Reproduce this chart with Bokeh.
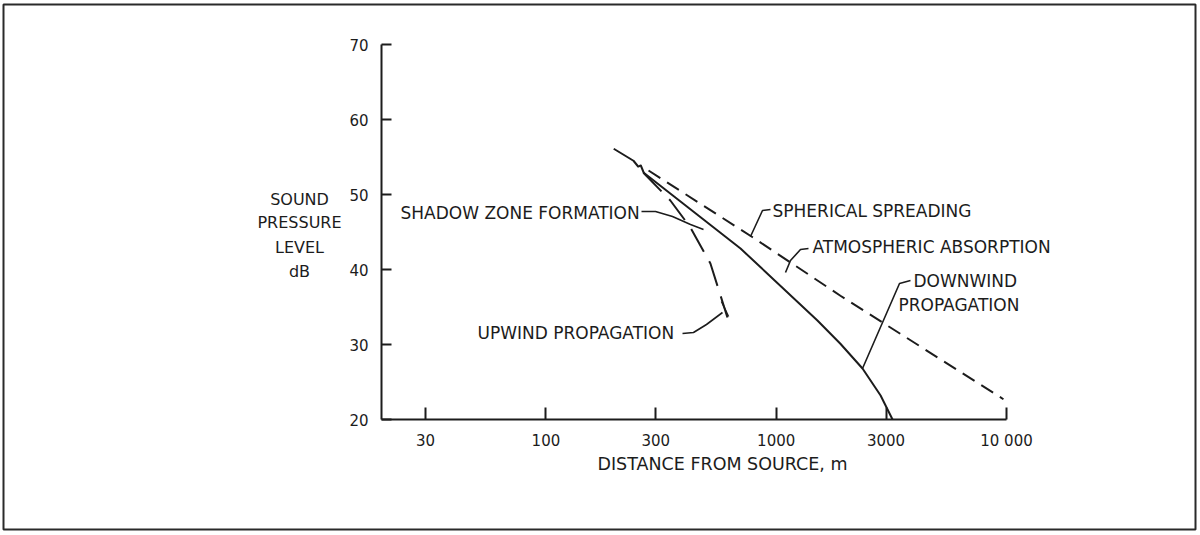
import math
from bokeh.plotting import figure
from bokeh.models import Label, BoxAnnotation, FixedTicker, Range1d
from bokeh.embed import file_html
from bokeh.resources import INLINE

# ---- data ----
x_ticks = [30, 100, 300, 1000, 3000, 10000]
x_tick_labels = ["30", "100", "300", "1000", "3000", "10 000"]
y_ticks = [20, 30, 40, 50, 60, 70]

spherical_distance = [279, 790, 1900, 9700]
spherical_spl = [53.2, 44.3, 36.5, 22.7]

downwind_distance = [197, 240, 252, 258, 266, 700, 1510, 1900, 2370, 2840, 3200]
downwind_spl = [56.1, 54.5, 53.7, 53.9, 52.9, 42.8, 33.2, 30.1, 26.8, 23.2, 20.0]

upwind_distance = [265, 347, 424, 518, 614]
upwind_spl = [52.9, 49.2, 45.6, 40.8, 33.6]

# ---- pixel geometry of the axes inside the 1200x535 canvas ----
W, H = 1200, 535
AX_L, AX_R, AX_T, AX_B = 381, 1006, 44, 419
PX_PER_DECADE = (AX_R - 425) / (4 - math.log10(30))
PX_PER_DB = (AX_B - AX_T) / 50.0


def X(px):
    return 10 ** (math.log10(30) + (px - 425) / PX_PER_DECADE)


def Y(py):
    return 20 + (AX_B - py) / PX_PER_DB


INK = "#1c1c1c"
FONT = "DejaVu Sans"

p = figure(width=W, height=H, x_axis_type="log",
           x_range=Range1d(X(0), X(W)), y_range=Range1d(Y(H), Y(0)),
           output_backend="svg", toolbar_location=None, min_border=0)
p.outline_line_color = None
p.background_fill_color = "white"
p.border_fill_color = "white"
p.xgrid.visible = False
p.ygrid.visible = False

p.xaxis.ticker = FixedTicker(ticks=x_ticks)
p.xaxis.major_label_overrides = {t: s for t, s in zip(x_ticks, x_tick_labels)}
p.xaxis.fixed_location = 20
p.xaxis.bounds = (X(AX_L), 10000)
p.yaxis.ticker = FixedTicker(ticks=y_ticks)
p.yaxis.fixed_location = X(AX_L)
p.yaxis.bounds = (20, 70)

for ax in (p.xaxis, p.yaxis):
    ax.axis_line_width = 2
    ax.axis_line_color = INK
    ax.major_tick_line_color = INK
    ax.major_tick_line_width = 2
    ax.major_tick_out = 0
    ax.minor_tick_in = 0
    ax.minor_tick_out = 0
    ax.major_label_text_font = FONT
    ax.major_label_text_font_size = "15px"
    ax.major_label_text_color = INK
p.xaxis.major_tick_in = 12
p.yaxis.major_tick_in = 10
p.xaxis.major_label_standoff = 12
p.yaxis.major_label_standoff = 13

# ---- curves ----
p.line(spherical_distance, spherical_spl, line_color=INK, line_width=2, line_dash="14 8")
p.line(downwind_distance, downwind_spl, line_color=INK, line_width=2)
p.line(upwind_distance, upwind_spl, line_color=INK, line_width=2, line_dash="26 11")

# ---- leader lines (pixel positions of the annotation strokes) ----
leaders = [
    [(641, 211), (655, 211), (672, 216), (690, 224), (703, 229)],      # shadow zone
    [(770, 209), (762, 210), (750, 236)],                               # spherical
    [(808, 248), (800, 249), (790, 260), (785, 272)],                   # atmospheric
    [(910, 280), (899, 283), (862, 368)],                               # downwind
    [(682, 333), (693, 332), (706, 324), (722, 312)],                   # upwind
    [(721, 301), (728, 316)],                                           # upwind end tick
]
for pts in leaders:
    p.line([X(a) for a, b in pts], [Y(b) for a, b in pts], line_color=INK, line_width=1.6)


def add_text(px, py, text, align="left", size="17px"):
    p.add_layout(Label(x=X(px), y=Y(py), text=text, text_align=align,
                       text_baseline="middle", text_font=FONT,
                       text_font_size=size, text_color=INK))


add_text(400, 212, "SHADOW ZONE FORMATION")
add_text(772, 210, "SPHERICAL SPREADING")
add_text(812, 246, "ATMOSPHERIC ABSORPTION")
add_text(913, 280, "DOWNWIND")
add_text(898, 304, "PROPAGATION")
add_text(477, 332, "UPWIND PROPAGATION")
add_text(722, 463, "DISTANCE FROM SOURCE, m", align="center", size="17.5px")

for py, t in zip([199, 222, 247, 271], ["SOUND", "PRESSURE", "LEVEL", "dB"]):
    add_text(299, py, t, align="center", size="16px")

# ---- outer frame of the figure ----
p.add_layout(BoxAnnotation(left=X(3), right=X(1195), top=Y(4), bottom=Y(529),
                           fill_alpha=0, line_color="#2a2a2a", line_alpha=1.0,
                           line_width=2))

open("out.html", "w").write(file_html(p, INLINE))
